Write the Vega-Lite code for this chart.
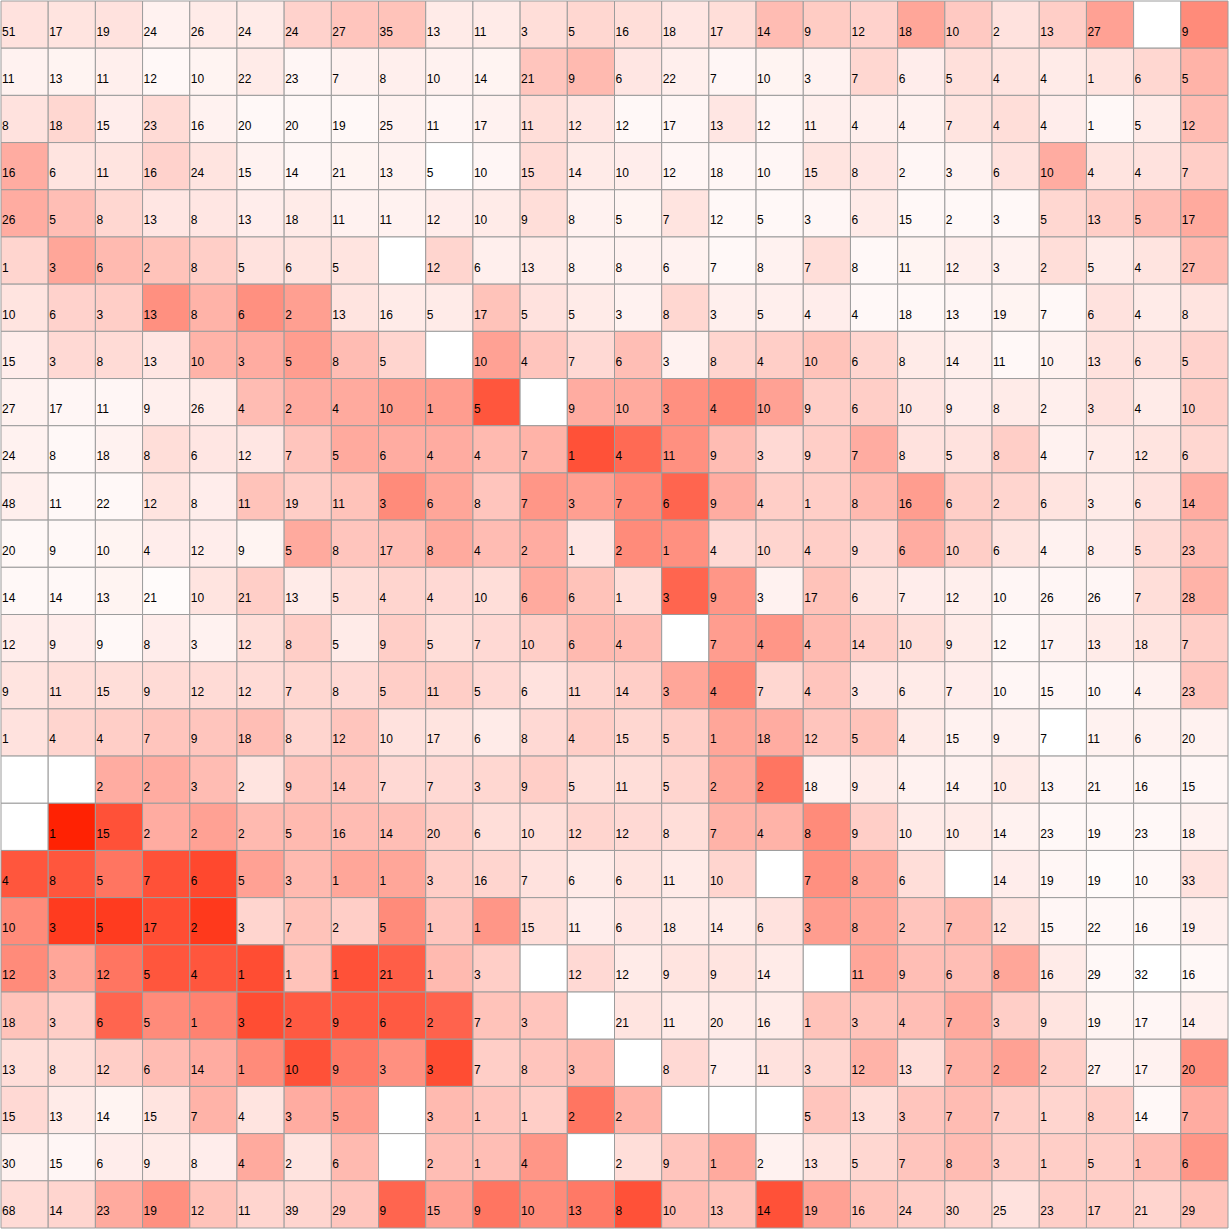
{
"$schema": "https://vega.github.io/schema/vega-lite/v6.json",
"width": 1229, "height": 1229, "padding": 0,
"autosize": {"type": "fit", "contains": "padding"},
"config": {"view": {"stroke": null}},
"data": {"values": [
{"r":0,"c":0,"n":"51","v":0.13},{"r":0,"c":1,"n":"17","v":0.12},{"r":0,"c":2,"n":"19","v":0.13},{"r":0,"c":3,"n":"24","v":0.06},{"r":0,"c":4,"n":"26","v":0.09},{"r":0,"c":5,"n":"24","v":0.09},{"r":0,"c":6,"n":"24","v":0.2},{"r":0,"c":7,"n":"27","v":0.26},{"r":0,"c":8,"n":"35","v":0.27},{"r":0,"c":9,"n":"13","v":0.09},{"r":0,"c":10,"n":"11","v":0.09},{"r":0,"c":11,"n":"3","v":0.15},{"r":0,"c":12,"n":"5","v":0.18},{"r":0,"c":13,"n":"16","v":0.15},{"r":0,"c":14,"n":"18","v":0.11},{"r":0,"c":15,"n":"17","v":0.15},{"r":0,"c":16,"n":"14","v":0.3},{"r":0,"c":17,"n":"9","v":0.23},{"r":0,"c":18,"n":"12","v":0.2},{"r":0,"c":19,"n":"18","v":0.4},{"r":0,"c":20,"n":"10","v":0.24},{"r":0,"c":21,"n":"2","v":0.13},{"r":0,"c":22,"n":"13","v":0.22},{"r":0,"c":23,"n":"27","v":0.42},{"r":0,"c":24,"n":"","v":0},{"r":0,"c":25,"n":"9","v":0.52},
{"r":1,"c":0,"n":"11","v":0.06},{"r":1,"c":1,"n":"13","v":0.05},{"r":1,"c":2,"n":"11","v":0.07},{"r":1,"c":3,"n":"12","v":0.03},{"r":1,"c":4,"n":"10","v":0.05},{"r":1,"c":5,"n":"22","v":0.09},{"r":1,"c":6,"n":"23","v":0.04},{"r":1,"c":7,"n":"7","v":0.06},{"r":1,"c":8,"n":"8","v":0.07},{"r":1,"c":9,"n":"10","v":0.06},{"r":1,"c":10,"n":"14","v":0.05},{"r":1,"c":11,"n":"21","v":0.26},{"r":1,"c":12,"n":"9","v":0.31},{"r":1,"c":13,"n":"6","v":0.11},{"r":1,"c":14,"n":"22","v":0.07},{"r":1,"c":15,"n":"7","v":0.04},{"r":1,"c":16,"n":"10","v":0.05},{"r":1,"c":17,"n":"3","v":0.06},{"r":1,"c":18,"n":"7","v":0.18},{"r":1,"c":19,"n":"6","v":0.08},{"r":1,"c":20,"n":"5","v":0.14},{"r":1,"c":21,"n":"4","v":0.12},{"r":1,"c":22,"n":"4","v":0.09},{"r":1,"c":23,"n":"1","v":0.12},{"r":1,"c":24,"n":"6","v":0.18},{"r":1,"c":25,"n":"5","v":0.34},
{"r":2,"c":0,"n":"8","v":0.13},{"r":2,"c":1,"n":"18","v":0.18},{"r":2,"c":2,"n":"15","v":0.08},{"r":2,"c":3,"n":"23","v":0.16},{"r":2,"c":4,"n":"16","v":0.06},{"r":2,"c":5,"n":"20","v":0.03},{"r":2,"c":6,"n":"20","v":0.03},{"r":2,"c":7,"n":"19","v":0.03},{"r":2,"c":8,"n":"25","v":0.06},{"r":2,"c":9,"n":"11","v":0.04},{"r":2,"c":10,"n":"17","v":0.06},{"r":2,"c":11,"n":"11","v":0.15},{"r":2,"c":12,"n":"12","v":0.11},{"r":2,"c":13,"n":"12","v":0.03},{"r":2,"c":14,"n":"17","v":0.04},{"r":2,"c":15,"n":"13","v":0.11},{"r":2,"c":16,"n":"12","v":0.04},{"r":2,"c":17,"n":"11","v":0.07},{"r":2,"c":18,"n":"4","v":0.07},{"r":2,"c":19,"n":"4","v":0.06},{"r":2,"c":20,"n":"7","v":0.12},{"r":2,"c":21,"n":"4","v":0.15},{"r":2,"c":22,"n":"4","v":0.08},{"r":2,"c":23,"n":"1","v":0.03},{"r":2,"c":24,"n":"5","v":0.09},{"r":2,"c":25,"n":"12","v":0.3},
{"r":3,"c":0,"n":"16","v":0.37},{"r":3,"c":1,"n":"6","v":0.12},{"r":3,"c":2,"n":"11","v":0.12},{"r":3,"c":3,"n":"16","v":0.2},{"r":3,"c":4,"n":"24","v":0.12},{"r":3,"c":5,"n":"15","v":0.06},{"r":3,"c":6,"n":"14","v":0.04},{"r":3,"c":7,"n":"21","v":0.05},{"r":3,"c":8,"n":"13","v":0.06},{"r":3,"c":9,"n":"5","v":0},{"r":3,"c":10,"n":"10","v":0.04},{"r":3,"c":11,"n":"15","v":0.16},{"r":3,"c":12,"n":"14","v":0.09},{"r":3,"c":13,"n":"10","v":0.08},{"r":3,"c":14,"n":"12","v":0.04},{"r":3,"c":15,"n":"18","v":0.04},{"r":3,"c":16,"n":"10","v":0.04},{"r":3,"c":17,"n":"15","v":0.12},{"r":3,"c":18,"n":"8","v":0.11},{"r":3,"c":19,"n":"2","v":0.04},{"r":3,"c":20,"n":"3","v":0.06},{"r":3,"c":21,"n":"6","v":0.13},{"r":3,"c":22,"n":"10","v":0.37},{"r":3,"c":23,"n":"4","v":0.12},{"r":3,"c":24,"n":"4","v":0.13},{"r":3,"c":25,"n":"7","v":0.22},
{"r":4,"c":0,"n":"26","v":0.37},{"r":4,"c":1,"n":"5","v":0.29},{"r":4,"c":2,"n":"8","v":0.18},{"r":4,"c":3,"n":"13","v":0.11},{"r":4,"c":4,"n":"8","v":0.11},{"r":4,"c":5,"n":"13","v":0.08},{"r":4,"c":6,"n":"18","v":0.09},{"r":4,"c":7,"n":"11","v":0.06},{"r":4,"c":8,"n":"11","v":0.06},{"r":4,"c":9,"n":"12","v":0.08},{"r":4,"c":10,"n":"10","v":0.09},{"r":4,"c":11,"n":"9","v":0.15},{"r":4,"c":12,"n":"8","v":0.06},{"r":4,"c":13,"n":"5","v":0.05},{"r":4,"c":14,"n":"7","v":0.12},{"r":4,"c":15,"n":"12","v":0.03},{"r":4,"c":16,"n":"5","v":0.03},{"r":4,"c":17,"n":"3","v":0.04},{"r":4,"c":18,"n":"6","v":0.09},{"r":4,"c":19,"n":"15","v":0.03},{"r":4,"c":20,"n":"2","v":0.03},{"r":4,"c":21,"n":"3","v":0.03},{"r":4,"c":22,"n":"5","v":0.18},{"r":4,"c":23,"n":"13","v":0.22},{"r":4,"c":24,"n":"5","v":0.29},{"r":4,"c":25,"n":"17","v":0.38},
{"r":5,"c":0,"n":"1","v":0.19},{"r":5,"c":1,"n":"3","v":0.4},{"r":5,"c":2,"n":"6","v":0.31},{"r":5,"c":3,"n":"2","v":0.27},{"r":5,"c":4,"n":"8","v":0.22},{"r":5,"c":5,"n":"5","v":0.13},{"r":5,"c":6,"n":"6","v":0.12},{"r":5,"c":7,"n":"5","v":0.12},{"r":5,"c":8,"n":"","v":0},{"r":5,"c":9,"n":"12","v":0.19},{"r":5,"c":10,"n":"6","v":0.07},{"r":5,"c":11,"n":"13","v":0.09},{"r":5,"c":12,"n":"8","v":0.06},{"r":5,"c":13,"n":"8","v":0.06},{"r":5,"c":14,"n":"6","v":0.06},{"r":5,"c":15,"n":"7","v":0.03},{"r":5,"c":16,"n":"8","v":0.06},{"r":5,"c":17,"n":"7","v":0.15},{"r":5,"c":18,"n":"8","v":0.03},{"r":5,"c":19,"n":"11","v":0.05},{"r":5,"c":20,"n":"12","v":0.07},{"r":5,"c":21,"n":"3","v":0.06},{"r":5,"c":22,"n":"2","v":0.15},{"r":5,"c":23,"n":"5","v":0.09},{"r":5,"c":24,"n":"4","v":0.12},{"r":5,"c":25,"n":"27","v":0.31},
{"r":6,"c":0,"n":"10","v":0.12},{"r":6,"c":1,"n":"6","v":0.2},{"r":6,"c":2,"n":"3","v":0.22},{"r":6,"c":3,"n":"13","v":0.5},{"r":6,"c":4,"n":"8","v":0.34},{"r":6,"c":5,"n":"6","v":0.5},{"r":6,"c":6,"n":"2","v":0.43},{"r":6,"c":7,"n":"13","v":0.12},{"r":6,"c":8,"n":"16","v":0.09},{"r":6,"c":9,"n":"5","v":0.09},{"r":6,"c":10,"n":"17","v":0.27},{"r":6,"c":11,"n":"5","v":0.13},{"r":6,"c":12,"n":"5","v":0.09},{"r":6,"c":13,"n":"3","v":0.06},{"r":6,"c":14,"n":"8","v":0.18},{"r":6,"c":15,"n":"3","v":0.07},{"r":6,"c":16,"n":"5","v":0.07},{"r":6,"c":17,"n":"4","v":0.08},{"r":6,"c":18,"n":"4","v":0.03},{"r":6,"c":19,"n":"18","v":0.03},{"r":6,"c":20,"n":"13","v":0.04},{"r":6,"c":21,"n":"19","v":0.05},{"r":6,"c":22,"n":"7","v":0.03},{"r":6,"c":23,"n":"6","v":0.13},{"r":6,"c":24,"n":"4","v":0.09},{"r":6,"c":25,"n":"8","v":0.12},
{"r":7,"c":0,"n":"15","v":0.08},{"r":7,"c":1,"n":"3","v":0.17},{"r":7,"c":2,"n":"8","v":0.16},{"r":7,"c":3,"n":"13","v":0.11},{"r":7,"c":4,"n":"10","v":0.34},{"r":7,"c":5,"n":"3","v":0.37},{"r":7,"c":6,"n":"5","v":0.44},{"r":7,"c":7,"n":"8","v":0.3},{"r":7,"c":8,"n":"5","v":0.19},{"r":7,"c":9,"n":"","v":0},{"r":7,"c":10,"n":"10","v":0.42},{"r":7,"c":11,"n":"4","v":0.26},{"r":7,"c":12,"n":"7","v":0.17},{"r":7,"c":13,"n":"6","v":0.29},{"r":7,"c":14,"n":"3","v":0.06},{"r":7,"c":15,"n":"8","v":0.19},{"r":7,"c":16,"n":"4","v":0.22},{"r":7,"c":17,"n":"10","v":0.27},{"r":7,"c":18,"n":"6","v":0.19},{"r":7,"c":19,"n":"8","v":0.09},{"r":7,"c":20,"n":"14","v":0.07},{"r":7,"c":21,"n":"11","v":0.03},{"r":7,"c":22,"n":"10","v":0.06},{"r":7,"c":23,"n":"13","v":0.13},{"r":7,"c":24,"n":"6","v":0.13},{"r":7,"c":25,"n":"5","v":0.2},
{"r":8,"c":0,"n":"27","v":0.06},{"r":8,"c":1,"n":"17","v":0.04},{"r":8,"c":2,"n":"11","v":0.04},{"r":8,"c":3,"n":"9","v":0.07},{"r":8,"c":4,"n":"26","v":0.09},{"r":8,"c":5,"n":"4","v":0.3},{"r":8,"c":6,"n":"2","v":0.37},{"r":8,"c":7,"n":"4","v":0.38},{"r":8,"c":8,"n":"10","v":0.43},{"r":8,"c":9,"n":"1","v":0.44},{"r":8,"c":10,"n":"5","v":0.76},{"r":8,"c":11,"n":"","v":0},{"r":8,"c":12,"n":"9","v":0.37},{"r":8,"c":13,"n":"10","v":0.38},{"r":8,"c":14,"n":"3","v":0.5},{"r":8,"c":15,"n":"4","v":0.54},{"r":8,"c":16,"n":"10","v":0.42},{"r":8,"c":17,"n":"9","v":0.22},{"r":8,"c":18,"n":"6","v":0.22},{"r":8,"c":19,"n":"10","v":0.11},{"r":8,"c":20,"n":"9","v":0.08},{"r":8,"c":21,"n":"8","v":0.09},{"r":8,"c":22,"n":"2","v":0.07},{"r":8,"c":23,"n":"3","v":0.13},{"r":8,"c":24,"n":"4","v":0.09},{"r":8,"c":25,"n":"10","v":0.22},
{"r":9,"c":0,"n":"24","v":0.06},{"r":9,"c":1,"n":"8","v":0.03},{"r":9,"c":2,"n":"18","v":0.06},{"r":9,"c":3,"n":"8","v":0.15},{"r":9,"c":4,"n":"6","v":0.11},{"r":9,"c":5,"n":"12","v":0.11},{"r":9,"c":6,"n":"7","v":0.26},{"r":9,"c":7,"n":"5","v":0.38},{"r":9,"c":8,"n":"6","v":0.37},{"r":9,"c":9,"n":"4","v":0.37},{"r":9,"c":10,"n":"4","v":0.31},{"r":9,"c":11,"n":"7","v":0.34},{"r":9,"c":12,"n":"1","v":0.78},{"r":9,"c":13,"n":"4","v":0.67},{"r":9,"c":14,"n":"11","v":0.5},{"r":9,"c":15,"n":"9","v":0.3},{"r":9,"c":16,"n":"3","v":0.17},{"r":9,"c":17,"n":"9","v":0.22},{"r":9,"c":18,"n":"7","v":0.37},{"r":9,"c":19,"n":"8","v":0.13},{"r":9,"c":20,"n":"5","v":0.13},{"r":9,"c":21,"n":"8","v":0.22},{"r":9,"c":22,"n":"4","v":0.06},{"r":9,"c":23,"n":"7","v":0.09},{"r":9,"c":24,"n":"12","v":0.12},{"r":9,"c":25,"n":"6","v":0.18},
{"r":10,"c":0,"n":"48","v":0.07},{"r":10,"c":1,"n":"11","v":0.03},{"r":10,"c":2,"n":"22","v":0.03},{"r":10,"c":3,"n":"12","v":0.12},{"r":10,"c":4,"n":"8","v":0.08},{"r":10,"c":5,"n":"11","v":0.27},{"r":10,"c":6,"n":"19","v":0.22},{"r":10,"c":7,"n":"11","v":0.27},{"r":10,"c":8,"n":"3","v":0.52},{"r":10,"c":9,"n":"6","v":0.4},{"r":10,"c":10,"n":"8","v":0.26},{"r":10,"c":11,"n":"7","v":0.47},{"r":10,"c":12,"n":"3","v":0.43},{"r":10,"c":13,"n":"7","v":0.52},{"r":10,"c":14,"n":"6","v":0.69},{"r":10,"c":15,"n":"9","v":0.37},{"r":10,"c":16,"n":"4","v":0.22},{"r":10,"c":17,"n":"1","v":0.22},{"r":10,"c":18,"n":"8","v":0.31},{"r":10,"c":19,"n":"16","v":0.44},{"r":10,"c":20,"n":"6","v":0.22},{"r":10,"c":21,"n":"2","v":0.19},{"r":10,"c":22,"n":"6","v":0.12},{"r":10,"c":23,"n":"3","v":0.09},{"r":10,"c":24,"n":"6","v":0.13},{"r":10,"c":25,"n":"14","v":0.37},
{"r":11,"c":0,"n":"20","v":0.03},{"r":11,"c":1,"n":"9","v":0.03},{"r":11,"c":2,"n":"10","v":0.05},{"r":11,"c":3,"n":"4","v":0.08},{"r":11,"c":4,"n":"12","v":0.08},{"r":11,"c":5,"n":"9","v":0.05},{"r":11,"c":6,"n":"5","v":0.38},{"r":11,"c":7,"n":"8","v":0.26},{"r":11,"c":8,"n":"17","v":0.29},{"r":11,"c":9,"n":"8","v":0.38},{"r":11,"c":10,"n":"4","v":0.3},{"r":11,"c":11,"n":"2","v":0.37},{"r":11,"c":12,"n":"1","v":0.11},{"r":11,"c":13,"n":"2","v":0.52},{"r":11,"c":14,"n":"1","v":0.5},{"r":11,"c":15,"n":"4","v":0.17},{"r":11,"c":16,"n":"10","v":0.19},{"r":11,"c":17,"n":"4","v":0.22},{"r":11,"c":18,"n":"9","v":0.17},{"r":11,"c":19,"n":"6","v":0.37},{"r":11,"c":20,"n":"10","v":0.22},{"r":11,"c":21,"n":"6","v":0.12},{"r":11,"c":22,"n":"4","v":0.06},{"r":11,"c":23,"n":"8","v":0.08},{"r":11,"c":24,"n":"5","v":0.16},{"r":11,"c":25,"n":"23","v":0.3},
{"r":12,"c":0,"n":"14","v":0.03},{"r":12,"c":1,"n":"14","v":0.03},{"r":12,"c":2,"n":"13","v":0.05},{"r":12,"c":3,"n":"21","v":0.02},{"r":12,"c":4,"n":"10","v":0.12},{"r":12,"c":5,"n":"21","v":0.22},{"r":12,"c":6,"n":"13","v":0.09},{"r":12,"c":7,"n":"5","v":0.15},{"r":12,"c":8,"n":"4","v":0.19},{"r":12,"c":9,"n":"4","v":0.17},{"r":12,"c":10,"n":"10","v":0.15},{"r":12,"c":11,"n":"6","v":0.38},{"r":12,"c":12,"n":"6","v":0.27},{"r":12,"c":13,"n":"1","v":0.15},{"r":12,"c":14,"n":"3","v":0.69},{"r":12,"c":15,"n":"9","v":0.47},{"r":12,"c":16,"n":"3","v":0.06},{"r":12,"c":17,"n":"17","v":0.27},{"r":12,"c":18,"n":"6","v":0.12},{"r":12,"c":19,"n":"7","v":0.08},{"r":12,"c":20,"n":"12","v":0.07},{"r":12,"c":21,"n":"10","v":0.04},{"r":12,"c":22,"n":"26","v":0.04},{"r":12,"c":23,"n":"26","v":0.04},{"r":12,"c":24,"n":"7","v":0.15},{"r":12,"c":25,"n":"28","v":0.34},
{"r":13,"c":0,"n":"12","v":0.08},{"r":13,"c":1,"n":"9","v":0.08},{"r":13,"c":2,"n":"9","v":0.03},{"r":13,"c":3,"n":"8","v":0.08},{"r":13,"c":4,"n":"3","v":0.06},{"r":13,"c":5,"n":"12","v":0.15},{"r":13,"c":6,"n":"8","v":0.22},{"r":13,"c":7,"n":"5","v":0.09},{"r":13,"c":8,"n":"9","v":0.22},{"r":13,"c":9,"n":"5","v":0.15},{"r":13,"c":10,"n":"7","v":0.17},{"r":13,"c":11,"n":"10","v":0.22},{"r":13,"c":12,"n":"6","v":0.31},{"r":13,"c":13,"n":"4","v":0.3},{"r":13,"c":14,"n":"","v":0},{"r":13,"c":15,"n":"7","v":0.44},{"r":13,"c":16,"n":"4","v":0.47},{"r":13,"c":17,"n":"4","v":0.31},{"r":13,"c":18,"n":"14","v":0.22},{"r":13,"c":19,"n":"10","v":0.15},{"r":13,"c":20,"n":"9","v":0.09},{"r":13,"c":21,"n":"12","v":0.03},{"r":13,"c":22,"n":"17","v":0.06},{"r":13,"c":23,"n":"13","v":0.09},{"r":13,"c":24,"n":"18","v":0.12},{"r":13,"c":25,"n":"7","v":0.22},
{"r":14,"c":0,"n":"9","v":0.12},{"r":14,"c":1,"n":"11","v":0.15},{"r":14,"c":2,"n":"15","v":0.15},{"r":14,"c":3,"n":"9","v":0.16},{"r":14,"c":4,"n":"12","v":0.16},{"r":14,"c":5,"n":"12","v":0.16},{"r":14,"c":6,"n":"7","v":0.18},{"r":14,"c":7,"n":"8","v":0.17},{"r":14,"c":8,"n":"5","v":0.22},{"r":14,"c":9,"n":"11","v":0.22},{"r":14,"c":10,"n":"5","v":0.17},{"r":14,"c":11,"n":"6","v":0.13},{"r":14,"c":12,"n":"11","v":0.19},{"r":14,"c":13,"n":"14","v":0.22},{"r":14,"c":14,"n":"3","v":0.4},{"r":14,"c":15,"n":"4","v":0.54},{"r":14,"c":16,"n":"7","v":0.18},{"r":14,"c":17,"n":"4","v":0.26},{"r":14,"c":18,"n":"3","v":0.11},{"r":14,"c":19,"n":"6","v":0.09},{"r":14,"c":20,"n":"7","v":0.08},{"r":14,"c":21,"n":"10","v":0.04},{"r":14,"c":22,"n":"15","v":0.04},{"r":14,"c":23,"n":"10","v":0.04},{"r":14,"c":24,"n":"4","v":0.06},{"r":14,"c":25,"n":"23","v":0.26},
{"r":15,"c":0,"n":"1","v":0.13},{"r":15,"c":1,"n":"4","v":0.19},{"r":15,"c":2,"n":"4","v":0.22},{"r":15,"c":3,"n":"7","v":0.26},{"r":15,"c":4,"n":"9","v":0.26},{"r":15,"c":5,"n":"18","v":0.29},{"r":15,"c":6,"n":"8","v":0.19},{"r":15,"c":7,"n":"12","v":0.26},{"r":15,"c":8,"n":"10","v":0.13},{"r":15,"c":9,"n":"17","v":0.12},{"r":15,"c":10,"n":"6","v":0.09},{"r":15,"c":11,"n":"8","v":0.17},{"r":15,"c":12,"n":"4","v":0.22},{"r":15,"c":13,"n":"15","v":0.18},{"r":15,"c":14,"n":"5","v":0.22},{"r":15,"c":15,"n":"1","v":0.4},{"r":15,"c":16,"n":"18","v":0.37},{"r":15,"c":17,"n":"12","v":0.26},{"r":15,"c":18,"n":"5","v":0.27},{"r":15,"c":19,"n":"4","v":0.09},{"r":15,"c":20,"n":"15","v":0.06},{"r":15,"c":21,"n":"9","v":0.06},{"r":15,"c":22,"n":"7","v":0},{"r":15,"c":23,"n":"11","v":0.06},{"r":15,"c":24,"n":"6","v":0.06},{"r":15,"c":25,"n":"20","v":0.06},
{"r":16,"c":0,"n":"","v":0},{"r":16,"c":1,"n":"","v":0},{"r":16,"c":2,"n":"2","v":0.37},{"r":16,"c":3,"n":"2","v":0.37},{"r":16,"c":4,"n":"3","v":0.3},{"r":16,"c":5,"n":"2","v":0.12},{"r":16,"c":6,"n":"9","v":0.26},{"r":16,"c":7,"n":"14","v":0.26},{"r":16,"c":8,"n":"7","v":0.17},{"r":16,"c":9,"n":"7","v":0.17},{"r":16,"c":10,"n":"3","v":0.18},{"r":16,"c":11,"n":"9","v":0.22},{"r":16,"c":12,"n":"5","v":0.15},{"r":16,"c":13,"n":"11","v":0.15},{"r":16,"c":14,"n":"5","v":0.19},{"r":16,"c":15,"n":"2","v":0.4},{"r":16,"c":16,"n":"2","v":0.62},{"r":16,"c":17,"n":"18","v":0.06},{"r":16,"c":18,"n":"9","v":0.09},{"r":16,"c":19,"n":"4","v":0.06},{"r":16,"c":20,"n":"14","v":0.06},{"r":16,"c":21,"n":"10","v":0.09},{"r":16,"c":22,"n":"13","v":0.04},{"r":16,"c":23,"n":"21","v":0.04},{"r":16,"c":24,"n":"16","v":0.04},{"r":16,"c":25,"n":"15","v":0.04},
{"r":17,"c":0,"n":"","v":0},{"r":17,"c":1,"n":"1","v":0.99},{"r":17,"c":2,"n":"15","v":0.78},{"r":17,"c":3,"n":"2","v":0.37},{"r":17,"c":4,"n":"2","v":0.42},{"r":17,"c":5,"n":"2","v":0.31},{"r":17,"c":6,"n":"5","v":0.31},{"r":17,"c":7,"n":"16","v":0.3},{"r":17,"c":8,"n":"14","v":0.29},{"r":17,"c":9,"n":"20","v":0.22},{"r":17,"c":10,"n":"6","v":0.15},{"r":17,"c":11,"n":"10","v":0.15},{"r":17,"c":12,"n":"12","v":0.19},{"r":17,"c":13,"n":"12","v":0.17},{"r":17,"c":14,"n":"8","v":0.15},{"r":17,"c":15,"n":"7","v":0.34},{"r":17,"c":16,"n":"4","v":0.34},{"r":17,"c":17,"n":"8","v":0.52},{"r":17,"c":18,"n":"9","v":0.22},{"r":17,"c":19,"n":"10","v":0.09},{"r":17,"c":20,"n":"10","v":0.09},{"r":17,"c":21,"n":"14","v":0.06},{"r":17,"c":22,"n":"23","v":0.03},{"r":17,"c":23,"n":"19","v":0.03},{"r":17,"c":24,"n":"23","v":0.03},{"r":17,"c":25,"n":"18","v":0.06},
{"r":18,"c":0,"n":"4","v":0.76},{"r":18,"c":1,"n":"8","v":0.76},{"r":18,"c":2,"n":"5","v":0.62},{"r":18,"c":3,"n":"7","v":0.78},{"r":18,"c":4,"n":"6","v":0.82},{"r":18,"c":5,"n":"5","v":0.42},{"r":18,"c":6,"n":"3","v":0.31},{"r":18,"c":7,"n":"1","v":0.4},{"r":18,"c":8,"n":"1","v":0.4},{"r":18,"c":9,"n":"3","v":0.22},{"r":18,"c":10,"n":"16","v":0.19},{"r":18,"c":11,"n":"7","v":0.13},{"r":18,"c":12,"n":"6","v":0.09},{"r":18,"c":13,"n":"6","v":0.12},{"r":18,"c":14,"n":"11","v":0.09},{"r":18,"c":15,"n":"10","v":0.19},{"r":18,"c":16,"n":"","v":0},{"r":18,"c":17,"n":"7","v":0.5},{"r":18,"c":18,"n":"8","v":0.4},{"r":18,"c":19,"n":"6","v":0.15},{"r":18,"c":20,"n":"","v":0},{"r":18,"c":21,"n":"14","v":0.08},{"r":18,"c":22,"n":"19","v":0.04},{"r":18,"c":23,"n":"19","v":0.02},{"r":18,"c":24,"n":"10","v":0.03},{"r":18,"c":25,"n":"33","v":0.13},
{"r":19,"c":0,"n":"10","v":0.52},{"r":19,"c":1,"n":"3","v":0.88},{"r":19,"c":2,"n":"5","v":0.88},{"r":19,"c":3,"n":"17","v":0.8},{"r":19,"c":4,"n":"2","v":0.89},{"r":19,"c":5,"n":"3","v":0.19},{"r":19,"c":6,"n":"7","v":0.27},{"r":19,"c":7,"n":"2","v":0.22},{"r":19,"c":8,"n":"5","v":0.52},{"r":19,"c":9,"n":"1","v":0.26},{"r":19,"c":10,"n":"1","v":0.47},{"r":19,"c":11,"n":"15","v":0.15},{"r":19,"c":12,"n":"11","v":0.08},{"r":19,"c":13,"n":"6","v":0.11},{"r":19,"c":14,"n":"18","v":0.09},{"r":19,"c":15,"n":"14","v":0.09},{"r":19,"c":16,"n":"6","v":0.13},{"r":19,"c":17,"n":"3","v":0.44},{"r":19,"c":18,"n":"8","v":0.4},{"r":19,"c":19,"n":"2","v":0.26},{"r":19,"c":20,"n":"7","v":0.31},{"r":19,"c":21,"n":"12","v":0.12},{"r":19,"c":22,"n":"15","v":0.04},{"r":19,"c":23,"n":"22","v":0.03},{"r":19,"c":24,"n":"16","v":0.03},{"r":19,"c":25,"n":"19","v":0.07},
{"r":20,"c":0,"n":"12","v":0.52},{"r":20,"c":1,"n":"3","v":0.4},{"r":20,"c":2,"n":"12","v":0.62},{"r":20,"c":3,"n":"5","v":0.76},{"r":20,"c":4,"n":"4","v":0.76},{"r":20,"c":5,"n":"1","v":0.8},{"r":20,"c":6,"n":"1","v":0.27},{"r":20,"c":7,"n":"1","v":0.78},{"r":20,"c":8,"n":"21","v":0.72},{"r":20,"c":9,"n":"1","v":0.31},{"r":20,"c":10,"n":"3","v":0.22},{"r":20,"c":11,"n":"","v":0},{"r":20,"c":12,"n":"12","v":0.17},{"r":20,"c":13,"n":"12","v":0.09},{"r":20,"c":14,"n":"9","v":0.12},{"r":20,"c":15,"n":"9","v":0.12},{"r":20,"c":16,"n":"14","v":0.09},{"r":20,"c":17,"n":"","v":0},{"r":20,"c":18,"n":"11","v":0.4},{"r":20,"c":19,"n":"9","v":0.29},{"r":20,"c":20,"n":"6","v":0.29},{"r":20,"c":21,"n":"8","v":0.4},{"r":20,"c":22,"n":"16","v":0.09},{"r":20,"c":23,"n":"29","v":0.03},{"r":20,"c":24,"n":"32","v":0},{"r":20,"c":25,"n":"16","v":0.03},
{"r":21,"c":0,"n":"18","v":0.27},{"r":21,"c":1,"n":"3","v":0.22},{"r":21,"c":2,"n":"6","v":0.69},{"r":21,"c":3,"n":"5","v":0.52},{"r":21,"c":4,"n":"1","v":0.56},{"r":21,"c":5,"n":"3","v":0.8},{"r":21,"c":6,"n":"2","v":0.74},{"r":21,"c":7,"n":"9","v":0.74},{"r":21,"c":8,"n":"6","v":0.74},{"r":21,"c":9,"n":"2","v":0.7},{"r":21,"c":10,"n":"7","v":0.27},{"r":21,"c":11,"n":"3","v":0.26},{"r":21,"c":12,"n":"","v":0},{"r":21,"c":13,"n":"21","v":0.12},{"r":21,"c":14,"n":"11","v":0.09},{"r":21,"c":15,"n":"20","v":0.09},{"r":21,"c":16,"n":"16","v":0.09},{"r":21,"c":17,"n":"1","v":0.27},{"r":21,"c":18,"n":"3","v":0.27},{"r":21,"c":19,"n":"4","v":0.29},{"r":21,"c":20,"n":"7","v":0.38},{"r":21,"c":21,"n":"3","v":0.22},{"r":21,"c":22,"n":"9","v":0.12},{"r":21,"c":23,"n":"19","v":0.05},{"r":21,"c":24,"n":"17","v":0.04},{"r":21,"c":25,"n":"14","v":0.07},
{"r":22,"c":0,"n":"13","v":0.15},{"r":22,"c":1,"n":"8","v":0.15},{"r":22,"c":2,"n":"12","v":0.22},{"r":22,"c":3,"n":"6","v":0.3},{"r":22,"c":4,"n":"14","v":0.37},{"r":22,"c":5,"n":"1","v":0.52},{"r":22,"c":6,"n":"10","v":0.78},{"r":22,"c":7,"n":"9","v":0.6},{"r":22,"c":8,"n":"3","v":0.5},{"r":22,"c":9,"n":"3","v":0.8},{"r":22,"c":10,"n":"7","v":0.22},{"r":22,"c":11,"n":"8","v":0.26},{"r":22,"c":12,"n":"3","v":0.31},{"r":22,"c":13,"n":"","v":0},{"r":22,"c":14,"n":"8","v":0.17},{"r":22,"c":15,"n":"7","v":0.08},{"r":22,"c":16,"n":"11","v":0.13},{"r":22,"c":17,"n":"3","v":0.18},{"r":22,"c":18,"n":"12","v":0.34},{"r":22,"c":19,"n":"13","v":0.15},{"r":22,"c":20,"n":"7","v":0.34},{"r":22,"c":21,"n":"2","v":0.42},{"r":22,"c":22,"n":"2","v":0.22},{"r":22,"c":23,"n":"27","v":0.06},{"r":22,"c":24,"n":"17","v":0.06},{"r":22,"c":25,"n":"20","v":0.5},
{"r":23,"c":0,"n":"15","v":0.17},{"r":23,"c":1,"n":"13","v":0.09},{"r":23,"c":2,"n":"14","v":0.05},{"r":23,"c":3,"n":"15","v":0.12},{"r":23,"c":4,"n":"7","v":0.34},{"r":23,"c":5,"n":"4","v":0.12},{"r":23,"c":6,"n":"3","v":0.37},{"r":23,"c":7,"n":"5","v":0.44},{"r":23,"c":8,"n":"","v":0},{"r":23,"c":9,"n":"3","v":0.31},{"r":23,"c":10,"n":"1","v":0.26},{"r":23,"c":11,"n":"1","v":0.22},{"r":23,"c":12,"n":"2","v":0.62},{"r":23,"c":13,"n":"2","v":0.34},{"r":23,"c":14,"n":"","v":0},{"r":23,"c":15,"n":"","v":0},{"r":23,"c":16,"n":"","v":0},{"r":23,"c":17,"n":"5","v":0.26},{"r":23,"c":18,"n":"13","v":0.15},{"r":23,"c":19,"n":"3","v":0.26},{"r":23,"c":20,"n":"7","v":0.3},{"r":23,"c":21,"n":"7","v":0.22},{"r":23,"c":22,"n":"1","v":0.19},{"r":23,"c":23,"n":"8","v":0.22},{"r":23,"c":24,"n":"14","v":0.03},{"r":23,"c":25,"n":"7","v":0.37},
{"r":24,"c":0,"n":"30","v":0.06},{"r":24,"c":1,"n":"15","v":0.04},{"r":24,"c":2,"n":"6","v":0.08},{"r":24,"c":3,"n":"9","v":0.09},{"r":24,"c":4,"n":"8","v":0.08},{"r":24,"c":5,"n":"4","v":0.38},{"r":24,"c":6,"n":"2","v":0.12},{"r":24,"c":7,"n":"6","v":0.31},{"r":24,"c":8,"n":"","v":0},{"r":24,"c":9,"n":"2","v":0.29},{"r":24,"c":10,"n":"1","v":0.29},{"r":24,"c":11,"n":"4","v":0.47},{"r":24,"c":12,"n":"","v":0},{"r":24,"c":13,"n":"2","v":0.15},{"r":24,"c":14,"n":"9","v":0.26},{"r":24,"c":15,"n":"1","v":0.38},{"r":24,"c":16,"n":"2","v":0.06},{"r":24,"c":17,"n":"13","v":0.12},{"r":24,"c":18,"n":"5","v":0.18},{"r":24,"c":19,"n":"7","v":0.26},{"r":24,"c":20,"n":"8","v":0.3},{"r":24,"c":21,"n":"3","v":0.22},{"r":24,"c":22,"n":"1","v":0.22},{"r":24,"c":23,"n":"5","v":0.22},{"r":24,"c":24,"n":"1","v":0.29},{"r":24,"c":25,"n":"6","v":0.47},
{"r":25,"c":0,"n":"68","v":0.16},{"r":25,"c":1,"n":"14","v":0.19},{"r":25,"c":2,"n":"23","v":0.38},{"r":25,"c":3,"n":"19","v":0.5},{"r":25,"c":4,"n":"12","v":0.27},{"r":25,"c":5,"n":"11","v":0.19},{"r":25,"c":6,"n":"39","v":0.19},{"r":25,"c":7,"n":"29","v":0.26},{"r":25,"c":8,"n":"9","v":0.69},{"r":25,"c":9,"n":"15","v":0.42},{"r":25,"c":10,"n":"9","v":0.62},{"r":25,"c":11,"n":"10","v":0.52},{"r":25,"c":12,"n":"13","v":0.6},{"r":25,"c":13,"n":"8","v":0.78},{"r":25,"c":14,"n":"10","v":0.3},{"r":25,"c":15,"n":"13","v":0.27},{"r":25,"c":16,"n":"14","v":0.78},{"r":25,"c":17,"n":"19","v":0.42},{"r":25,"c":18,"n":"16","v":0.27},{"r":25,"c":19,"n":"24","v":0.22},{"r":25,"c":20,"n":"30","v":0.19},{"r":25,"c":21,"n":"25","v":0.13},{"r":25,"c":22,"n":"23","v":0.22},{"r":25,"c":23,"n":"17","v":0.22},{"r":25,"c":24,"n":"21","v":0.19},{"r":25,"c":25,"n":"29","v":0.27}
]},
"encoding": {
  "x": {"field": "c", "type": "ordinal", "axis": null, "scale": {"paddingInner": 0, "paddingOuter": 0}},
  "y": {"field": "r", "type": "ordinal", "axis": null, "scale": {"paddingInner": 0, "paddingOuter": 0}}
},
"layer": [
  {"mark": {"type": "rect", "stroke": "#9c9c9c", "strokeWidth": 1},
   "encoding": {"color": {"field": "v", "type": "quantitative", "legend": null,
     "scale": {"domain": [0, 1], "range": ["#ffffff", "#ff2000"], "interpolate": "rgb"}}}},
  {"mark": {"type": "text", "align": "left", "baseline": "alphabetic", "dx": 1, "dy": 11, "font": "Liberation Sans", "fontSize": 12, "color": "#000000"},
   "encoding": {"x": {"field": "c", "type": "ordinal", "axis": null, "bandPosition": 0}, "text": {"field": "n"}}}
]
}
